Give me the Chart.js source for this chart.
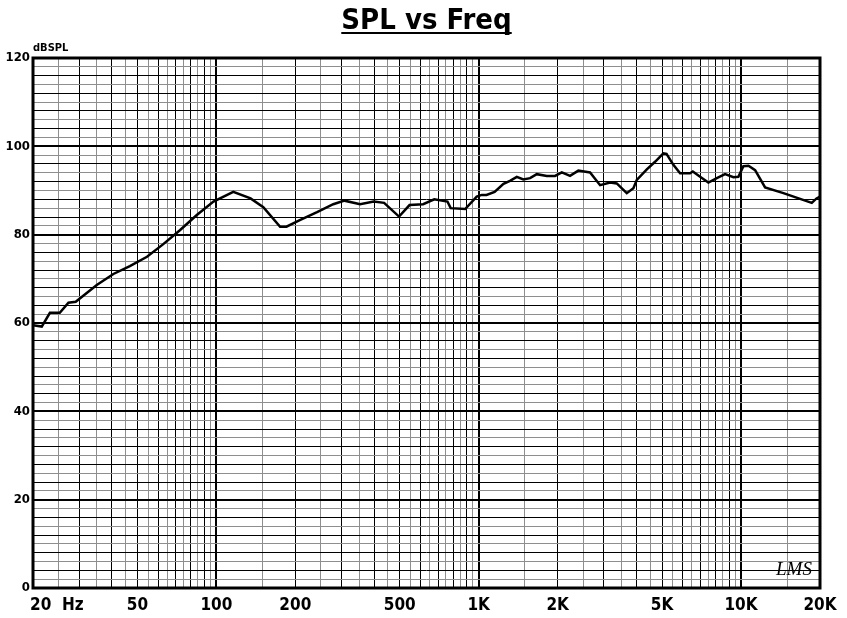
<!DOCTYPE html>
<html>
<head>
<meta charset="utf-8">
<script src="https://cdn.jsdelivr.net/npm/chart.js@4"></script>
<style>
  html, body { margin: 0; padding: 0; background: #fff; }
  canvas { display: block; }
</style>
</head>
<body>
<canvas id="splChart" width="847" height="618"></canvas>
<script>
// values
const freqs = [20, 21.6, 23.2, 25.3, 27.3, 29.1, 35, 40.5, 46.8, 54.4, 62.6, 72.6, 84, 97.5,
  116, 135, 151, 175, 185, 208, 242, 279, 308, 353, 398, 436, 497, 545, 614, 677, 760, 782,
  888, 983, 1027, 1071, 1150, 1243, 1316, 1397, 1480, 1570, 1665, 1818, 1955, 2074, 2230,
  2398, 2658, 2902, 3169, 3360, 3668, 3888, 4006, 4374, 4702, 5058, 5200, 5522, 5858, 6394,
  6550, 6982, 7508, 8086, 8692, 9356, 9770, 10210, 10680, 11314, 12352, 14508, 16796, 18608,
  19400, 20000];
const spl = [59.5, 59.2, 62.3, 62.3, 64.6, 64.8, 68.6, 71.1, 72.9, 75.0, 77.8, 81.0, 84.4, 87.5,
  89.7, 88.2, 86.2, 81.8, 81.8, 83.3, 85.1, 86.9, 87.7, 86.9, 87.5, 87.2, 84.1, 86.7, 86.9, 88.0, 87.5, 86.0,
  85.8, 88.6, 89.0, 89.0, 89.7, 91.5, 92.2, 93.1, 92.5, 92.8, 93.7, 93.3, 93.3, 94.1, 93.3,
  94.5, 94.1, 91.2, 91.8, 91.6, 89.4, 90.5, 92.4, 94.8, 96.5, 98.4, 98.3, 95.8, 93.9, 93.9,
  94.3, 93.1, 91.8, 92.8, 93.7, 93.0, 93.1, 95.5, 95.6, 94.6, 90.7, 89.4, 88.1, 87.2,
  88.2, 88.6];

const xLabelVals = [20, 50, 100, 200, 500, 1000, 2000, 5000, 10000, 20000];
const xLabelText = ["20  Hz", "50", "100", "200", "500", "1K", "2K", "5K", "10K", "20K"];
const yLabelVals = [0, 20, 40, 60, 80, 100, 120];

const narrow = '"Liberation Sans Narrow", "DejaVu Sans Condensed", "Arial Narrow", sans-serif';

// vertical grid: every half unit of each decade
const gridFreqs = [];
[10, 100, 1000, 10000].forEach(dec => {
  for (let m = 1; m < 10; m += 0.5) {
    const v = m * dec;
    if (v > 20 && v < 20000) gridFreqs.push(v);
  }
});

function mantissa(v) {
  return v / Math.pow(10, Math.floor(Math.log10(v) + 1e-9));
}

const textPlugin = {
  id: "splText",
  afterDraw(chart) {
    const ctx = chart.ctx;
    const area = chart.chartArea;
    const xs = chart.scales.x;
    ctx.save();

    // frame
    ctx.strokeStyle = "#000";
    ctx.lineWidth = 3;
    ctx.strokeRect(area.left, area.top, area.right - area.left, area.bottom - area.top);

    // title with underline
    ctx.fillStyle = "#000";
    ctx.font = "bold 29px " + narrow;
    ctx.textAlign = "center";
    ctx.textBaseline = "alphabetic";
    const cx = (area.left + area.right) / 2;
    ctx.fillText("SPL vs Freq", cx, 29);
    const w = ctx.measureText("SPL vs Freq").width;
    ctx.fillRect(cx - w / 2, 32, w, 2);

    // unit label
    ctx.font = "bold 11px " + narrow;
    ctx.textAlign = "left";
    ctx.fillText("dBSPL", area.left, 51);

    // x labels
    ctx.font = "bold 17px " + narrow;
    ctx.textBaseline = "middle";
    xLabelVals.forEach((v, i) => {
      const px = xs.getPixelForValue(v);
      if (i === 0) {
        ctx.textAlign = "left";
        ctx.fillText(xLabelText[i], px - 3, 606);
      } else {
        ctx.textAlign = "center";
        ctx.fillText(xLabelText[i], px, 606);
      }
    });

    // signature
    ctx.font = "italic 19px \"Liberation Serif\", serif";
    ctx.textAlign = "left";
    ctx.textBaseline = "alphabetic";
    ctx.fillText("LMS", 776, 575);
    ctx.restore();
  },
};

const chart = new Chart(document.getElementById("splChart").getContext("2d"), {
  type: "line",
  data: {
    datasets: [
      {
        data: freqs.map((f, i) => ({ x: f, y: spl[i] })),
        borderColor: "#000",
        borderWidth: 2.5,
        pointRadius: 0,
        tension: 0,
        fill: false,
      },
    ],
  },
  options: {
    responsive: false,
    animation: false,
    devicePixelRatio: 1,
    layout: { padding: { top: 58, left: 0, right: 27, bottom: 30 } },
    plugins: { legend: { display: false }, tooltip: { enabled: false } },
    scales: {
      x: {
        type: "logarithmic",
        min: 20,
        max: 20000,
        afterBuildTicks(scale) {
          scale.ticks = gridFreqs.map(v => ({ value: v }));
        },
        afterFit(scale) {
          scale.height = 0;
        },
        ticks: { display: false },
        border: { display: false },
        grid: {
          drawTicks: false,
          color: c => (Math.abs(mantissa(c.tick.value) - Math.round(mantissa(c.tick.value))) < 1e-6 ? "#000" : "#8e8e8e"),
          lineWidth: c => (Math.abs(mantissa(c.tick.value) - 1) < 1e-6 ? 2 : 1),
        },
      },
      y: {
        min: 0,
        max: 120,
        afterFit(scale) {
          scale.width = 33;
        },
        ticks: {
          stepSize: 2,
          autoSkip: false,
          padding: 3,
          color: "#000",
          font: { family: narrow, size: 13, weight: "bold" },
          callback: v => (yLabelVals.includes(v) ? String(v) : ""),
        },
        border: { display: false },
        grid: {
          drawTicks: false,
          color: c => (c.tick.value % 4 === 0 ? "#000" : "#8e8e8e"),
          lineWidth: c => (c.tick.value % 20 === 0 ? 2 : 1),
        },
      },
    },
  },
  plugins: [textPlugin],
});
</script>
</body>
</html>
